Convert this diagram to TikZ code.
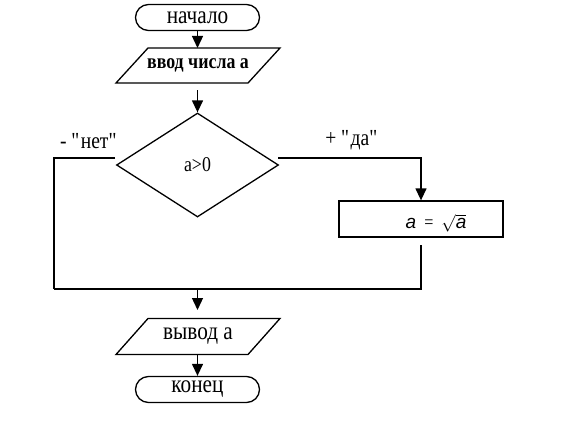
\documentclass[tikz,border=0pt]{standalone}
\usepackage{fontspec}
\setmainfont{Liberation Serif}[FakeStretch=0.85]
\newfontfamily\mysans{Liberation Sans}
\usetikzlibrary{arrows.meta,shapes.geometric,calc}
\begin{document}
\begin{tikzpicture}[x=1pt,y=-1pt,
  line width=1.3pt,
  term/.style={draw, rounded corners=13pt, minimum width=124pt, minimum height=26pt, inner sep=0pt, font=\fontsize{25}{25}\selectfont},
  iotext/.style={inner sep=0pt},
  dec/.style={draw, diamond, aspect=1.56, minimum width=162pt, minimum height=104pt, inner sep=0pt, font=\fontsize{21}{21}\selectfont},
  proc/.style={draw, minimum width=164pt, minimum height=36pt, inner sep=0pt},
  arr/.style={-{Triangle[length=12pt,width=11pt]}},
  lbl/.style={font=\fontsize{23}{23}\selectfont}]
\useasboundingbox (0,0) rectangle (567,420);
% start
\node[term] (start) at (197.5,17.5) {начало};
% input
\node[iotext, font=\bfseries\fontsize{21}{21}\selectfont] (in) at (198,65.5) {ввод числа а};
\draw ($(in.center)+(-50,-17.5)$) -- ($(in.center)+(82,-17.5)$) -- ($(in.center)+(50,17.5)$) -- ($(in.center)+(-82,17.5)$) -- cycle;
\coordinate (inTop) at (197.5,48);
\coordinate (c1) at (197.5,90);
\draw[arr] (start.south) -- (inTop);
% decision
\node[dec] (d) at (197.5,165) {a>0};
\draw[arr] (c1) -- (d.north);
% no branch
\coordinate (nl) at (115,158);
\coordinate (nlc) at (54,158);
\coordinate (nb) at (54,289);
\draw (nl) -- (nlc) -- (nb);
\node[lbl] (nolbl) at (89,141) {- \textquotedbl нет\textquotedbl};
% yes branch
\coordinate (yl) at (278,158);
\coordinate (yc) at (421,158);
\node[proc] (box) at (421,219) {};
\node[inner sep=0pt, font=\fontsize{19}{19}\selectfont] (boxtxt) at (436,223) {{\mysans\itshape a}\ \ =\ \ $\sqrt{\mbox{\mysans\itshape a}}$};
\draw[arr] (yl) -- (yc) -- (box.north);
\node[lbl] (yeslbl) at (352,140) {+ \textquotedbl да\textquotedbl};
\coordinate (c2) at (421,245);
\coordinate (yb) at (421,289);
\draw (c2) -- (yb) -- (nb);
% merge
\coordinate (m) at (197.5,289);
\coordinate (outArr) at (197.5,310);
\draw[arr] (m) -- (outArr);
% output
\node[iotext, font=\fontsize{25}{25}\selectfont] (out) at (198,336.5) {вывод а};
\draw ($(out.center)+(-50,-18)$) -- ($(out.center)+(82,-18)$) -- ($(out.center)+(50,18)$) -- ($(out.center)+(-82,18)$) -- cycle;
\coordinate (outBot) at (197.5,355);
% end
\node[term] (end) at (197.5,389.5) {конец};
\draw[arr] (outBot) -- (end.north);
\end{tikzpicture}
\end{document}
